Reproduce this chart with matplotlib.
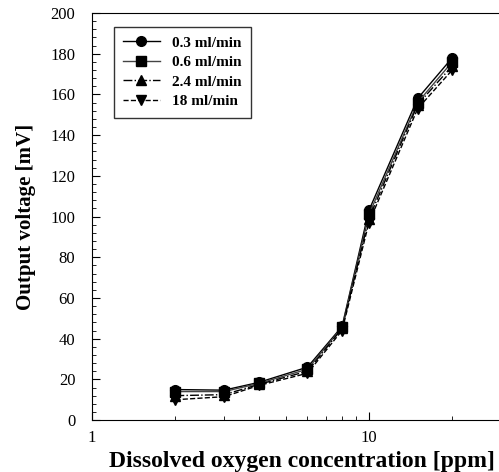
import matplotlib
matplotlib.use("Agg")
import matplotlib.pyplot as plt
from matplotlib.ticker import MultipleLocator, LogLocator, NullFormatter, FixedLocator, FixedFormatter

plt.rcParams['font.family'] = ['Liberation Serif', 'DejaVu Serif']

x = [2, 3, 4, 6, 8, 10, 15, 20]
labels = ['0.3 ml/min', '0.6 ml/min', '2.4 ml/min', '18 ml/min']
y_03 = [15, 14.7, 18.5, 26, 46, 103, 158, 178]
y_06 = [14, 14, 18, 25, 45.5, 101, 156, 176]
y_24 = [12, 12.5, 17.5, 24, 45, 99, 155, 174]
y_18 = [10, 11.5, 17, 23, 44, 97, 153, 172]
series = [y_03, y_06, y_24, y_18]
markers = ['o', 's', '^', 'v']
styles = ['-', '-', '-.', '--']
colors = ['black', '#444444', 'black', 'black']

fig = plt.figure(figsize=(4.99, 4.72), dpi=100)
ax = fig.add_axes([0.1844, 0.110, 0.8156, 0.8625])
for ys, m, ls, c, lab in zip(series, markers, styles, colors, labels):
    ax.plot(x, ys, linestyle=ls, color=c, marker=m, markersize=7,
            markerfacecolor='black', markeredgecolor='black', linewidth=1.0, label=lab)

ax.set_xscale('log')
ax.set_xlim(1, 29.5)
ax.set_ylim(0, 200)
ax.spines['right'].set_visible(False)
ax.yaxis.set_major_locator(MultipleLocator(20))
ax.yaxis.set_minor_locator(MultipleLocator(4))
ax.xaxis.set_major_locator(FixedLocator([1, 10]))
ax.xaxis.set_major_formatter(FixedFormatter(['1', '10']))
ax.xaxis.set_minor_locator(LogLocator(base=10, subs=range(2, 10)))
ax.xaxis.set_minor_formatter(NullFormatter())
ax.tick_params(which='both', direction='in', labelsize=12, right=False, top=False)
ax.tick_params(which='major', length=6)
ax.tick_params(which='minor', length=3)
ax.tick_params(axis='x', pad=7)
ax.tick_params(axis='y', pad=12)

ax.set_xlabel('Dissolved oxygen concentration [ppm]', fontsize=17, fontweight='bold', labelpad=2)
ax.xaxis.set_label_coords(0.515, -0.075)
ax.set_ylabel('Output voltage [mV]', fontsize=15, fontweight='bold', labelpad=10)

leg = ax.legend(loc='upper left', bbox_to_anchor=(0.054, 0.9656), borderaxespad=0,
                frameon=True, fancybox=False,
                edgecolor='black', prop={'weight': 'bold', 'size': 11}, handlelength=2.4,
                borderpad=0.6, labelspacing=0.38, handletextpad=0.8)
leg.get_frame().set_linewidth(1.0)
for t in leg.get_texts():
    t.set_ha('right')

fig.savefig('out.png', dpi=100)
